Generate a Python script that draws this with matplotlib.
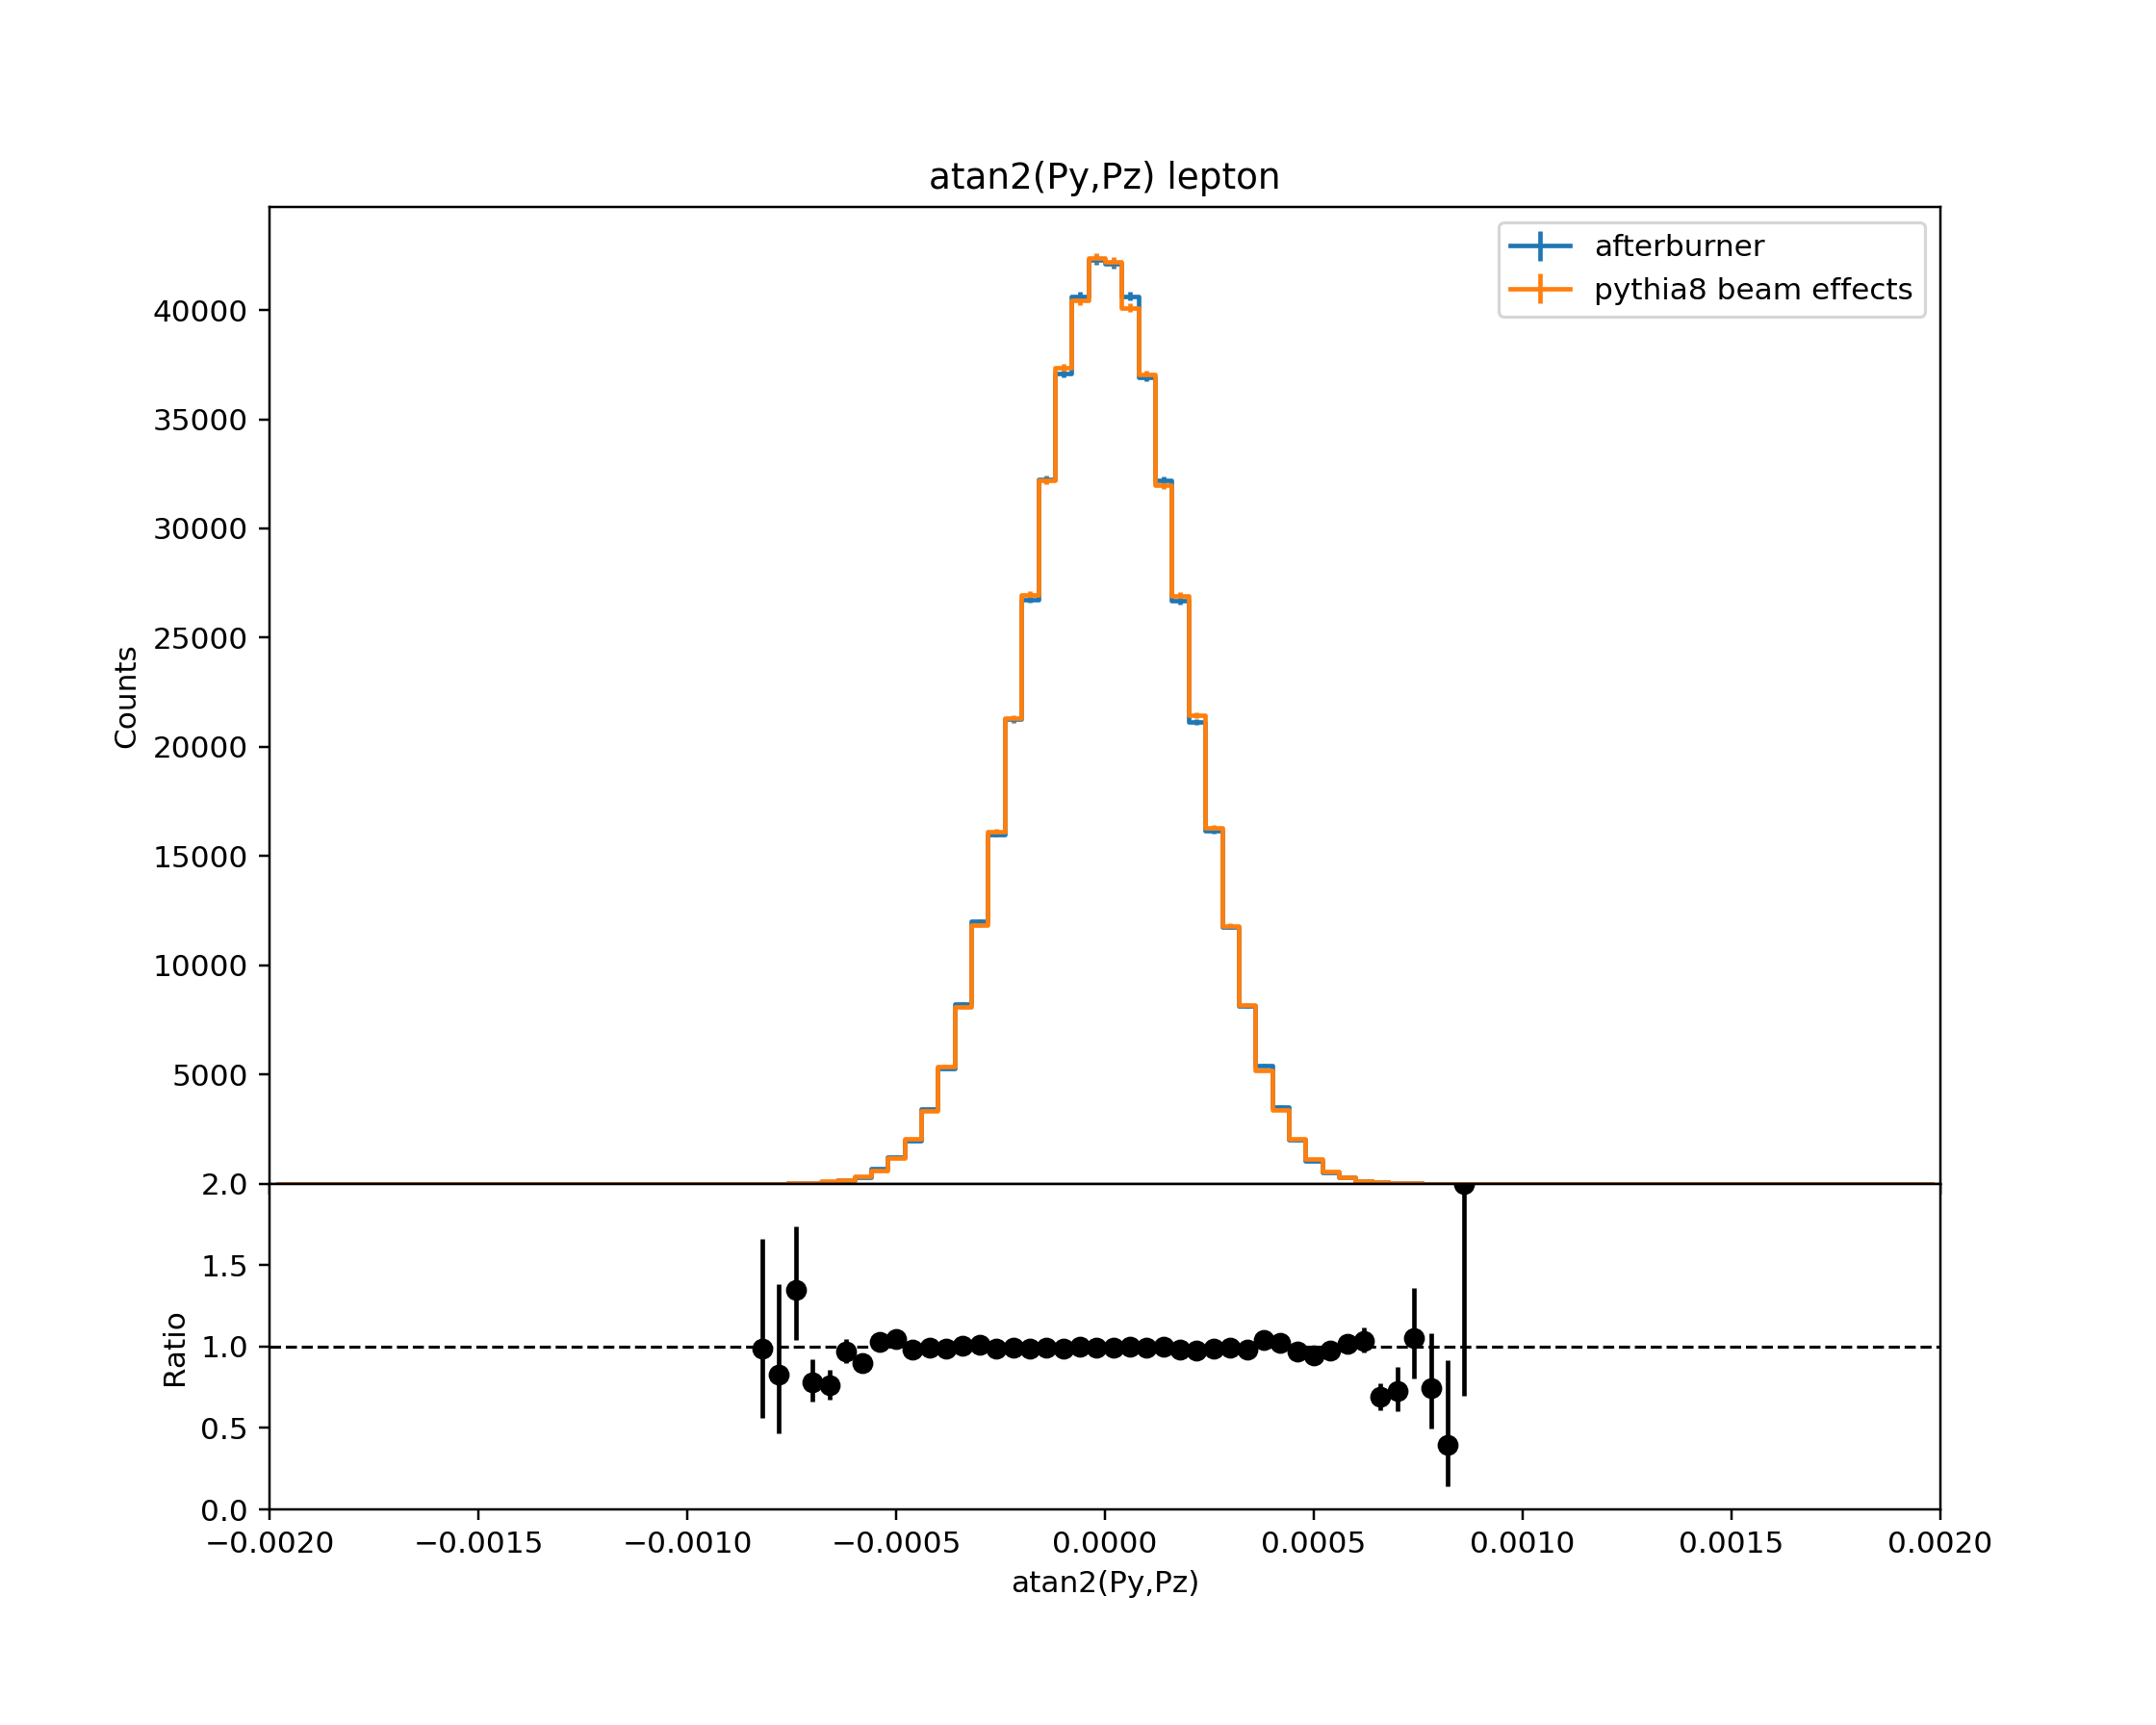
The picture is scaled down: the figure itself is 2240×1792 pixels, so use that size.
import numpy as np
import matplotlib
matplotlib.use("Agg")
import matplotlib.pyplot as plt

# ---- binning ----
x_min, x_max, n_bins = -0.002, 0.002, 100
first_bin = 29  # index of first non-empty bin

# ---- histogram counts (bins 29..71) ----
afterburner = [4, 5, 27, 39, 76, 155, 300, 674, 1230, 1953, 3422, 5287, 8244,
               12020, 16002, 21260, 26754, 32258, 37095, 40622, 42300, 42120,
               40622, 36932, 32200, 26697, 21140, 16166, 11755, 8130, 5430,
               3530, 1995, 1040, 525, 290, 140, 56, 27, 16, 6, 2, 2]
pythia8 = [4, 6, 20, 50, 100, 160, 330, 600, 1160, 2040, 3347, 5375, 8082,
           11843, 16107, 21300, 26960, 32185, 37345, 40430, 42380, 42210,
           40107, 37051, 31980, 26930, 21450, 16283, 11813, 8170, 5200,
           3391, 2068, 1142, 570, 280, 135, 80, 36, 15, 8, 5, 1]

# ---- ratio (bins 29..71) ----
ratio = [0.99, 0.83, 1.35, 0.78, 0.76, 0.97, 0.90, 1.03, 1.045, 0.98, 0.993,
         0.985, 1.006, 1.011, 0.985, 0.991, 0.985, 0.991, 0.985, 0.997, 0.991,
         0.991, 1.002, 0.991, 1.002, 0.981, 0.973, 0.987, 0.991, 0.983, 1.04,
         1.02, 0.969, 0.944, 0.973, 1.016, 1.032, 0.691, 0.727, 1.05, 0.745,
         0.396, 2.0]
ratio_err_lo = [0.43, 0.36, 0.31, 0.12, 0.085, 0.07, 0.05, 0.04, 0.03, 0.022,
                0.017, 0.014, 0.011, 0.009, 0.008, 0.007, 0.006, 0.006, 0.005,
                0.005, 0.005, 0.005, 0.005, 0.005, 0.006, 0.006, 0.007, 0.008,
                0.009, 0.011, 0.014, 0.017, 0.022, 0.03, 0.04, 0.06, 0.07,
                0.084, 0.126, 0.246, 0.25, 0.256, 1.3]
ratio_err_hi = [0.67, 0.555, 0.39, 0.14, 0.095, 0.075, 0.05, 0.04, 0.03, 0.022,
                0.017, 0.014, 0.011, 0.009, 0.008, 0.007, 0.006, 0.006, 0.005,
                0.005, 0.005, 0.005, 0.005, 0.005, 0.006, 0.006, 0.007, 0.008,
                0.009, 0.011, 0.014, 0.017, 0.022, 0.03, 0.04, 0.06, 0.083,
                0.083, 0.148, 0.31, 0.34, 0.52, 1.2]

edges = np.linspace(x_min, x_max, n_bins + 1)
centers = 0.5 * (edges[:-1] + edges[1:])

h_after = np.zeros(n_bins)
h_pyth = np.zeros(n_bins)
h_after[first_bin:first_bin + len(afterburner)] = afterburner
h_pyth[first_bin:first_bin + len(pythia8)] = pythia8
ratio_x = centers[first_bin:first_bin + len(ratio)]

fig = plt.figure(figsize=(10, 8), dpi=224)
gs = fig.add_gridspec(2, 1, height_ratios=[3, 1], hspace=0,
                      left=0.125, right=0.9, top=0.88, bottom=0.125)
ax1 = fig.add_subplot(gs[0])
ax2 = fig.add_subplot(gs[1], sharex=ax1)

ax1.errorbar(centers, h_after, yerr=np.sqrt(h_after), drawstyle='steps-mid',
             label='afterburner')
ax1.errorbar(centers, h_pyth, yerr=np.sqrt(h_pyth), drawstyle='steps-mid',
             label='pythia8 beam effects')
ax1.set_ylim(bottom=0)
ax1.set_yticks(np.arange(5000, 45000, 5000))
ax1.set_ylabel('Counts')
ax1.set_title('atan2(Py,Pz) lepton')
ax1.legend(loc='upper right')
plt.setp(ax1.get_xticklabels(), visible=False)

ax2.errorbar(ratio_x, ratio, yerr=[ratio_err_lo, ratio_err_hi], fmt='ko')
ax2.axhline(1.0, color='k', linestyle='--', linewidth=1)
ax2.set_ylim(0, 2)
ax2.set_xlim(x_min, x_max)
ax2.set_ylabel('Ratio')
ax2.set_xlabel('atan2(Py,Pz)')

fig.savefig('out.png', dpi=224)
